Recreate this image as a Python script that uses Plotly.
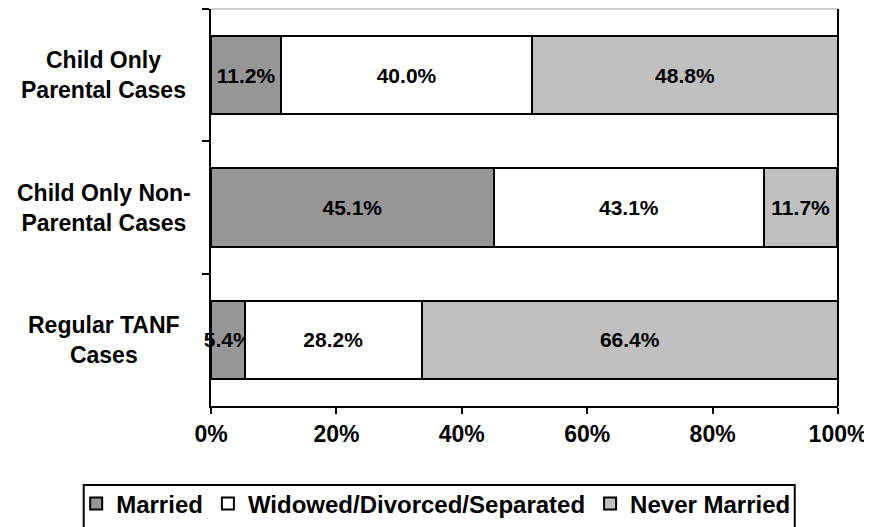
import plotly.graph_objects as go

categories = ["Child Only<br>Parental Cases", "Child Only Non-<br>Parental Cases", "Regular TANF<br>Cases"]
married = [11.2, 45.1, 5.4]
widowed = [40.0, 43.1, 28.2]
never_married = [48.8, 11.7, 66.4]
series_names = ["Married", "Widowed/Divorced/Separated", "Never Married"]
series_colors = ["#969696", "#ffffff", "#c0c0c0"]
x_ticks = [0, 20, 40, 60, 80, 100]

FONT = "Liberation Sans, Arial, sans-serif"

fig = go.Figure()
for name, vals, col in zip(series_names, [married, widowed, never_married], series_colors):
    fig.add_trace(go.Bar(
        name=name, y=categories, x=vals, orientation="h",
        marker=dict(color=col, line=dict(color="black", width=2)),
        width=0.59,
        text=[f"{v:.1f}%" for v in vals],
        textposition="inside", insidetextanchor="middle", constraintext="none",
        textangle=0,
        textfont=dict(family=FONT, size=21, color="black", weight="bold"),
        cliponaxis=False,
    ))

for c in categories:
    fig.add_annotation(text=c, x=-0.171, xref="paper", y=c, yref="y",
                       xanchor="center", yanchor="middle", align="center", showarrow=False,
                       font=dict(family=FONT, size=23, color="black", weight="bold"))

# plot frame: gray top, black right
fig.add_shape(type="line", xref="paper", yref="paper", x0=0, x1=1, y0=1, y1=1,
              line=dict(color="#a0a0a0", width=1))
fig.add_shape(type="line", xref="paper", yref="paper", x0=1, x1=1, y0=0, y1=1,
              line=dict(color="black", width=2))
# legend box (bottom edge below the page)
fig.add_shape(type="rect", xref="paper", yref="paper", x0=-0.203, x1=0.931, y0=-0.37, y1=-0.199,
              line=dict(color="black", width=2))

# page body has an 8px margin: figure is sized/offset to compensate
fig.update_layout(
    width=864, height=519,
    margin=dict(l=203, r=34, t=1, b=121, autoexpand=False),
    barmode="stack", bargap=0.41,
    plot_bgcolor="white", paper_bgcolor="white",
    showlegend=True,
    legend=dict(orientation="h", x=-0.215, xanchor="left", y=-0.19, yanchor="top",
                font=dict(family=FONT, size=24, color="black", weight="bold"),
                itemwidth=30, traceorder="normal", borderwidth=0, bgcolor="rgba(0,0,0,0)"),
    xaxis=dict(range=[0, 100], tickvals=x_ticks, ticktext=[f"{t}%" for t in x_ticks],
               ticks="outside", ticklen=6, tickwidth=2, tickcolor="black",
               showline=True, linecolor="black", linewidth=2, showgrid=False, zeroline=False,
               tickfont=dict(family=FONT, size=23, color="black", weight="bold")),
    yaxis=dict(type="category", categoryorder="array", categoryarray=categories,
               autorange="reversed", tickson="boundaries",
               ticks="outside", ticklen=7, tickwidth=2, tickcolor="black",
               showticklabels=False, showline=True, linecolor="black", linewidth=2,
               showgrid=False, zeroline=False),
)

fig.write_html("out.html")
